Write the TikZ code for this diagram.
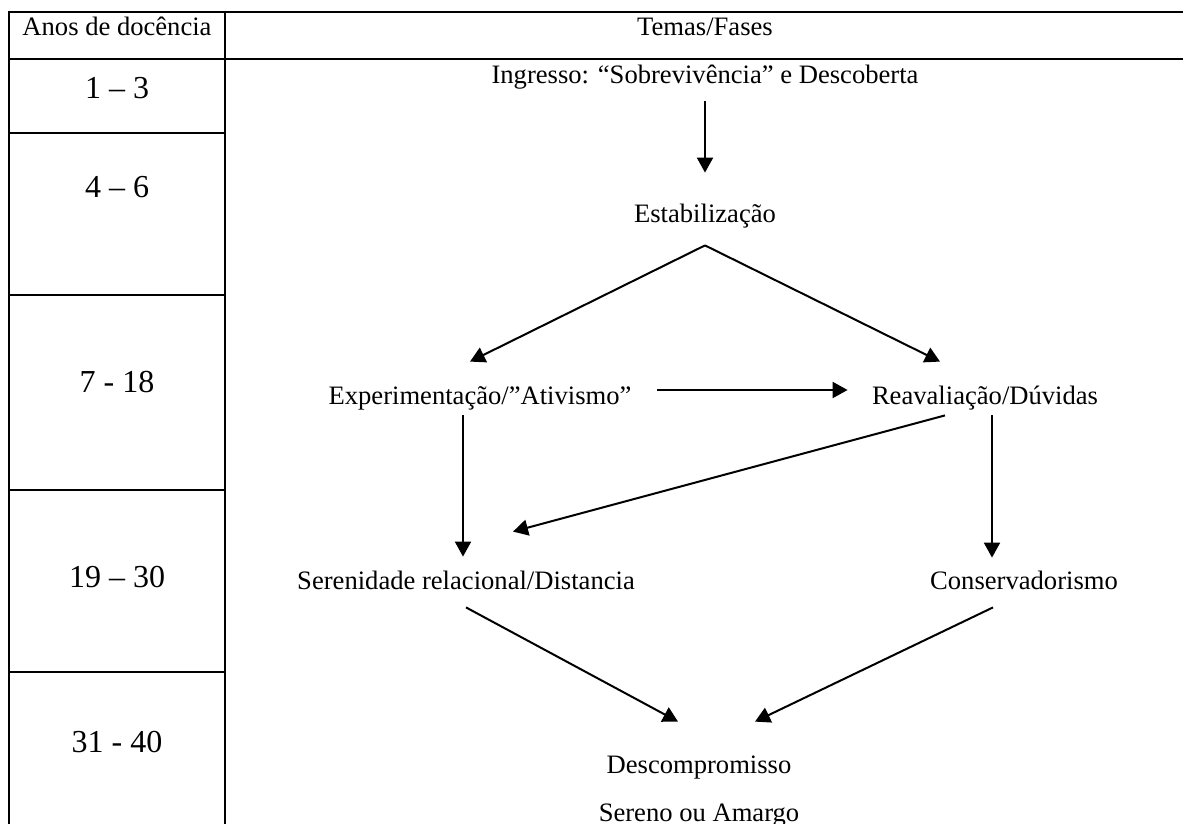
\documentclass[tikz,border=0pt]{standalone}
\usepackage{fontspec}
\setmainfont{Liberation Serif}
\usetikzlibrary{arrows.meta}

\begin{document}
\begin{tikzpicture}[x=0.5pt,y=-0.5pt,
		>={Triangle[length=7.5pt,width=8pt]},
		fase/.style={inner sep=0pt, text height=10pt, text depth=3pt, font=\fontsize{13.3}{16}\selectfont},
		anos/.style={anchor=base, inner sep=0pt, font=\fontsize{16}{19}\selectfont},
		grade/.style={line width=1.3pt},
		seta/.style={->, line width=1pt}]

			\useasboundingbox (0,0) rectangle (1183,824);

			\draw[grade] (1183,12) -- (9,12) -- (9,824);
			\draw[grade] (9,59) -- (1183,59);
			\draw[grade] (225,12) -- (225,824);
			\foreach \y in {133,295,490,672}
				\draw[grade] (9,\y) -- (225,\y);

			\node (anos) [fase] at (117,29) {Anos de docência};
			\node (temas) [fase] at (705,29) {Temas/Fases};

			\node (r1) [anos] at (117,98) {1 – 3};
			\node (r2) [anos] at (117,198) {4 – 6};
			\node (r3) [anos] at (117,392) {7 - 18};
			\node (r4) [anos] at (117,587) {19 – 30};
			\node (r5) [anos] at (117,752) {31 - 40};

			\node (ingresso) [fase] at (705,77) {Ingresso: “Sobrevivência” e Descoberta};
			\node (estab) [fase] at (705,215) {Estabilização};
			\node (exper) [fase] at (480,397) {Experimentação/”Ativismo”};
			\node (reav) [fase] at (985,397) {Reavaliação/Dúvidas};
			\node (seren) [fase] at (466,582) {Serenidade relacional/Distancia};
			\node (conserv) [fase] at (1024,582) {Conservadorismo};
			\node (descomp) [fase] at (699,766) {Descompromisso};
			\node (amargo) [fase] at (699,814) {Sereno ou Amargo};

			\draw[seta] ([yshift=-5.5pt]ingresso.south) -- ([yshift=14.5pt]estab.north);
			\draw[seta] ([yshift=-8.5pt]estab.south) -- ([xshift=-5pt, yshift=11pt]exper.north);
			\draw[seta] ([yshift=-8.5pt]estab.south) -- ([xshift=-22.5pt, yshift=11pt]reav.north);
			\draw[seta] ([xshift=12.5pt, yshift=3.5pt]exper.east) -- ([xshift=-12pt, yshift=3.5pt]reav.west);
			\draw[seta] ([xshift=-8.5pt, yshift=-2.5pt]exper.south) -- ([xshift=-1.5pt, yshift=6pt]seren.north);
			\draw[seta] ([xshift=-20pt, yshift=-2.5pt]reav.south) -- ([xshift=23.5pt, yshift=18.5pt]seren.north);
			\draw[seta] ([xshift=3.5pt, yshift=-2.5pt]reav.south) -- ([xshift=-16pt, yshift=5.5pt]conserv.north);
			\draw[seta] ([yshift=-6pt]seren.south) -- ([xshift=-10.5pt, yshift=15.5pt]descomp.north);
			\draw[seta] ([xshift=-15.5pt, yshift=-6pt]conserv.south) -- ([xshift=28pt, yshift=15.5pt]descomp.north);
		\end{tikzpicture}
\end{document}
